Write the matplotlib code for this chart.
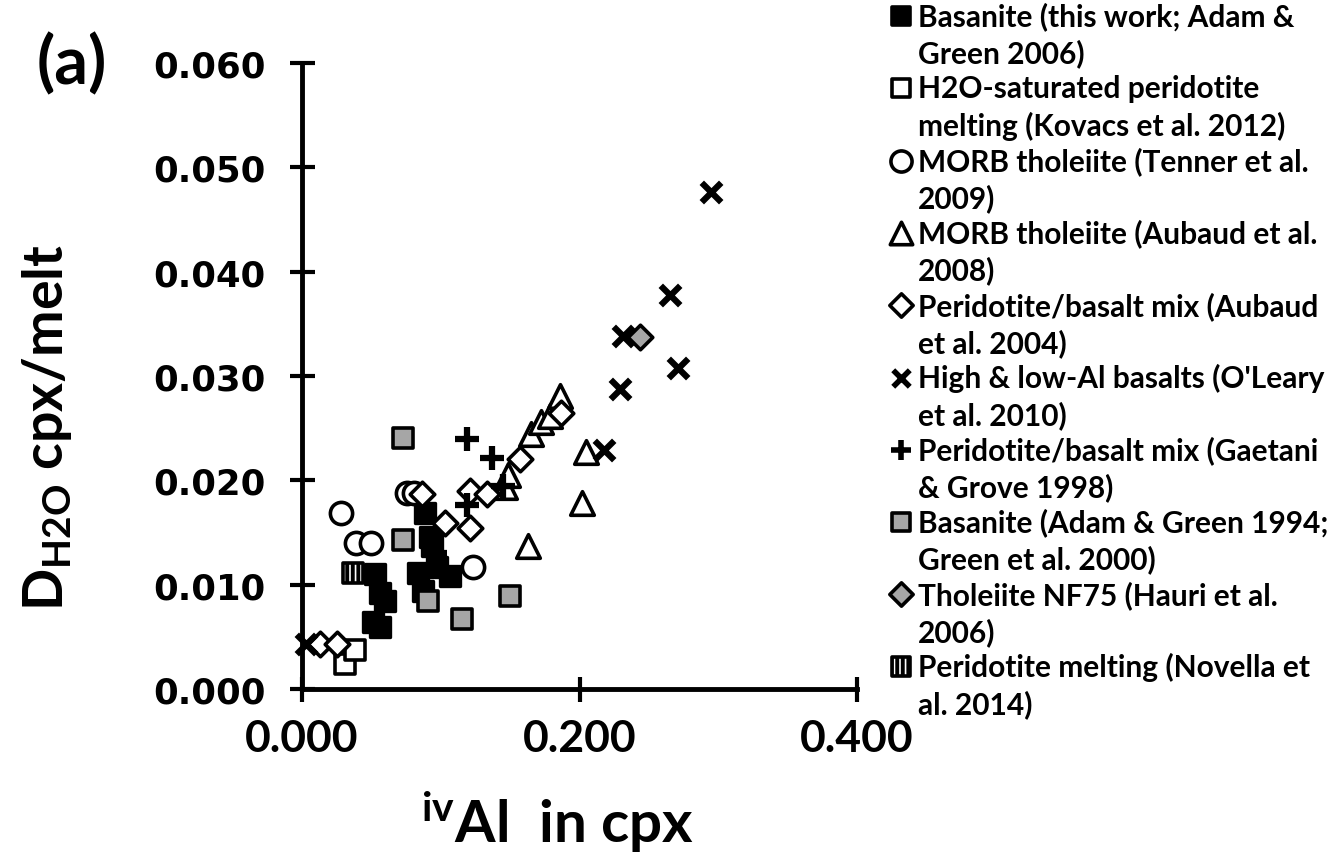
import matplotlib
matplotlib.use("Agg")
import matplotlib.pyplot as plt

# ---- data ----
this_work_x = [0.0526, 0.0562, 0.0598, 0.0512, 0.0560, 0.0886, 0.0920, 0.0935, 0.0838, 0.0870, 0.1067, 0.0970]
this_work_y = [0.0110, 0.0092, 0.0084, 0.0064, 0.0059, 0.0169, 0.0146, 0.0137, 0.0111, 0.0094, 0.0108, 0.0117]

kovacs_x = [0.031, 0.038]
kovacs_y = [0.0024, 0.0037]

tenner_x = [0.0283, 0.0755, 0.0810, 0.0390, 0.0500, 0.1235]
tenner_y = [0.0169, 0.0188, 0.0188, 0.0140, 0.0140, 0.0117]

aubaud08_x = [0.146, 0.1485, 0.165, 0.1724, 0.179, 0.186, 0.205, 0.202, 0.163]
aubaud08_y = [0.0194, 0.0205, 0.0244, 0.0256, 0.0262, 0.0281, 0.0227, 0.0178, 0.0137]

aubaud04_x = [0.013, 0.025, 0.0863, 0.103, 0.121, 0.121, 0.133, 0.157, 0.187]
aubaud04_y = [0.0043, 0.0043, 0.0187, 0.0159, 0.0190, 0.0154, 0.0187, 0.0220, 0.0265]

oleary_x = [0.003, 0.218, 0.229, 0.2317, 0.265, 0.271, 0.295]
oleary_y = [0.0043, 0.0229, 0.0288, 0.0338, 0.0378, 0.0308, 0.0476]

gaetani_x = [0.1187, 0.1367, 0.1187, 0.096, 0.145]
gaetani_y = [0.0240, 0.0221, 0.0176, 0.0130, 0.0195]

adam94_x = [0.0728, 0.0730, 0.0910, 0.1150, 0.1500]
adam94_y = [0.0241, 0.0143, 0.0084, 0.0067, 0.0089]

hauri_x = [0.2436]
hauri_y = [0.0337]

novella_x = [0.0368]
novella_y = [0.0111]

labels = [
    "Basanite (this work; Adam &\nGreen 2006)",
    "H2O-saturated peridotite\nmelting (Kovacs et al. 2012)",
    "MORB tholeiite (Tenner et al.\n2009)",
    "MORB tholeiite (Aubaud et al.\n2008)",
    "Peridotite/basalt mix (Aubaud\net al. 2004)",
    "High & low-Al basalts (O'Leary\net al. 2010)",
    "Peridotite/basalt mix (Gaetani\n& Grove 1998)",
    "Basanite (Adam & Green 1994;\nGreen et al. 2000)",
    "Tholeiite NF75 (Hauri et al.\n2006)",
    "Peridotite melting (Novella et\nal. 2014)",
]

xs = [this_work_x, kovacs_x, tenner_x, aubaud08_x, aubaud04_x, oleary_x, gaetani_x, adam94_x, hauri_x, novella_x]
ys = [this_work_y, kovacs_y, tenner_y, aubaud08_y, aubaud04_y, oleary_y, gaetani_y, adam94_y, hauri_y, novella_y]

gray = "#a6a6a6"
# marker, facecolor, size (pt), linewidth, hatch
styles = [
    ("s", "black", 14, 2.4, None),
    ("s", "white", 14, 2.6, None),
    ("o", "white", 16, 2.6, None),
    ("^", "white", 17, 2.6, None),
    ("D", "white", 12.5, 2.6, None),
    ("x", "black", 14, 4.5, None),
    ("+", "black", 17, 4.5, None),
    ("s", gray, 14, 2.6, None),
    ("D", gray, 12.5, 2.6, None),
    ("s", "white", 14, 2.6, "|||"),
]

plt.rcParams["mathtext.fontset"] = "custom"
plt.rcParams["mathtext.rm"] = "Lato:bold"
plt.rcParams["mathtext.it"] = "Lato:bold"
plt.rcParams["mathtext.bf"] = "Lato:bold"
plt.rcParams["hatch.linewidth"] = 2.8
plt.rcParams["hatch.color"] = "black"

W, H = 1338, 853
fig = plt.figure(figsize=(W / 100, H / 100), dpi=100)
ax = fig.add_axes([302 / W, 1 - 690 / H, 555 / W, 626 / H])

for x, y, (m, fc, sz, lw, hatch) in zip(xs, ys, styles):
    if m in ("x", "+"):
        ax.scatter(x, y, marker=m, s=sz ** 2, c="black", linewidths=lw, clip_on=False, zorder=3)
    else:
        ax.scatter(x, y, marker=m, s=sz ** 2, facecolors=fc, edgecolors="black",
                   linewidths=lw, hatch=hatch, clip_on=False, zorder=3)

ax.set_xlim(0, 0.4)
ax.set_ylim(0, 0.06)
ax.set_xticks([0, 0.2, 0.4])
ax.set_yticks([0, 0.01, 0.02, 0.03, 0.04, 0.05, 0.06])
ax.set_xticklabels(["0.000", "0.200", "0.400"], fontfamily="Lato", fontweight="bold", fontsize=32)
ax.set_yticklabels([f"{v:.3f}" for v in ax.get_yticks()], fontfamily="DejaVu Sans",
                   fontweight="bold", fontsize=25.5)
ax.tick_params(direction="inout", length=18, width=3, pad=17)
ax.tick_params(axis="x", pad=12)
for s in ("top", "right"):
    ax.spines[s].set_visible(False)
for s in ("left", "bottom"):
    ax.spines[s].set_linewidth(3.5)

ax.set_ylabel(r"$\mathrm{D_{H2O}}$ cpx/melt", fontfamily="Lato", fontweight="bold", fontsize=40)
ax.yaxis.set_label_coords(-0.41, 0.42)
ax.set_xlabel(r"$^{\mathrm{iv}}$Al  in cpx", fontfamily="Lato", fontweight="bold", fontsize=42)
ax.xaxis.set_label_coords(0.46, -0.16)

fig.text(72 / W, 1 - 65 / H, "(a)", ha="center", va="center", fontfamily="Lato",
         fontweight="bold", fontsize=48)

# legend, drawn by hand so the marker sits on the first line of each entry
for i, (lab, (m, fc, sz, lw, hatch)) in enumerate(zip(labels, styles)):
    yc = 17 + 72.3 * i
    mx, my = 901 / W, 1 - yc / H
    if m in ("x", "+"):
        ax.scatter([mx], [my], marker=m, s=(sz * 0.85) ** 2, c="black", linewidths=4,
                   transform=fig.transFigure, clip_on=False)
    else:
        ax.scatter([mx], [my], marker=m, s=(sz * 0.95) ** 2, facecolors=fc, edgecolors="black",
                   linewidths=2.6, hatch=hatch, transform=fig.transFigure, clip_on=False)
    for j, line in enumerate(lab.split("\n")):
        fig.text(918 / W, 1 - (yc + 37 * j) / H, line, ha="left", va="center",
                 fontfamily="Lato", fontweight="bold", fontsize=21.5)

fig.savefig("out.png", dpi=100, facecolor="white")
